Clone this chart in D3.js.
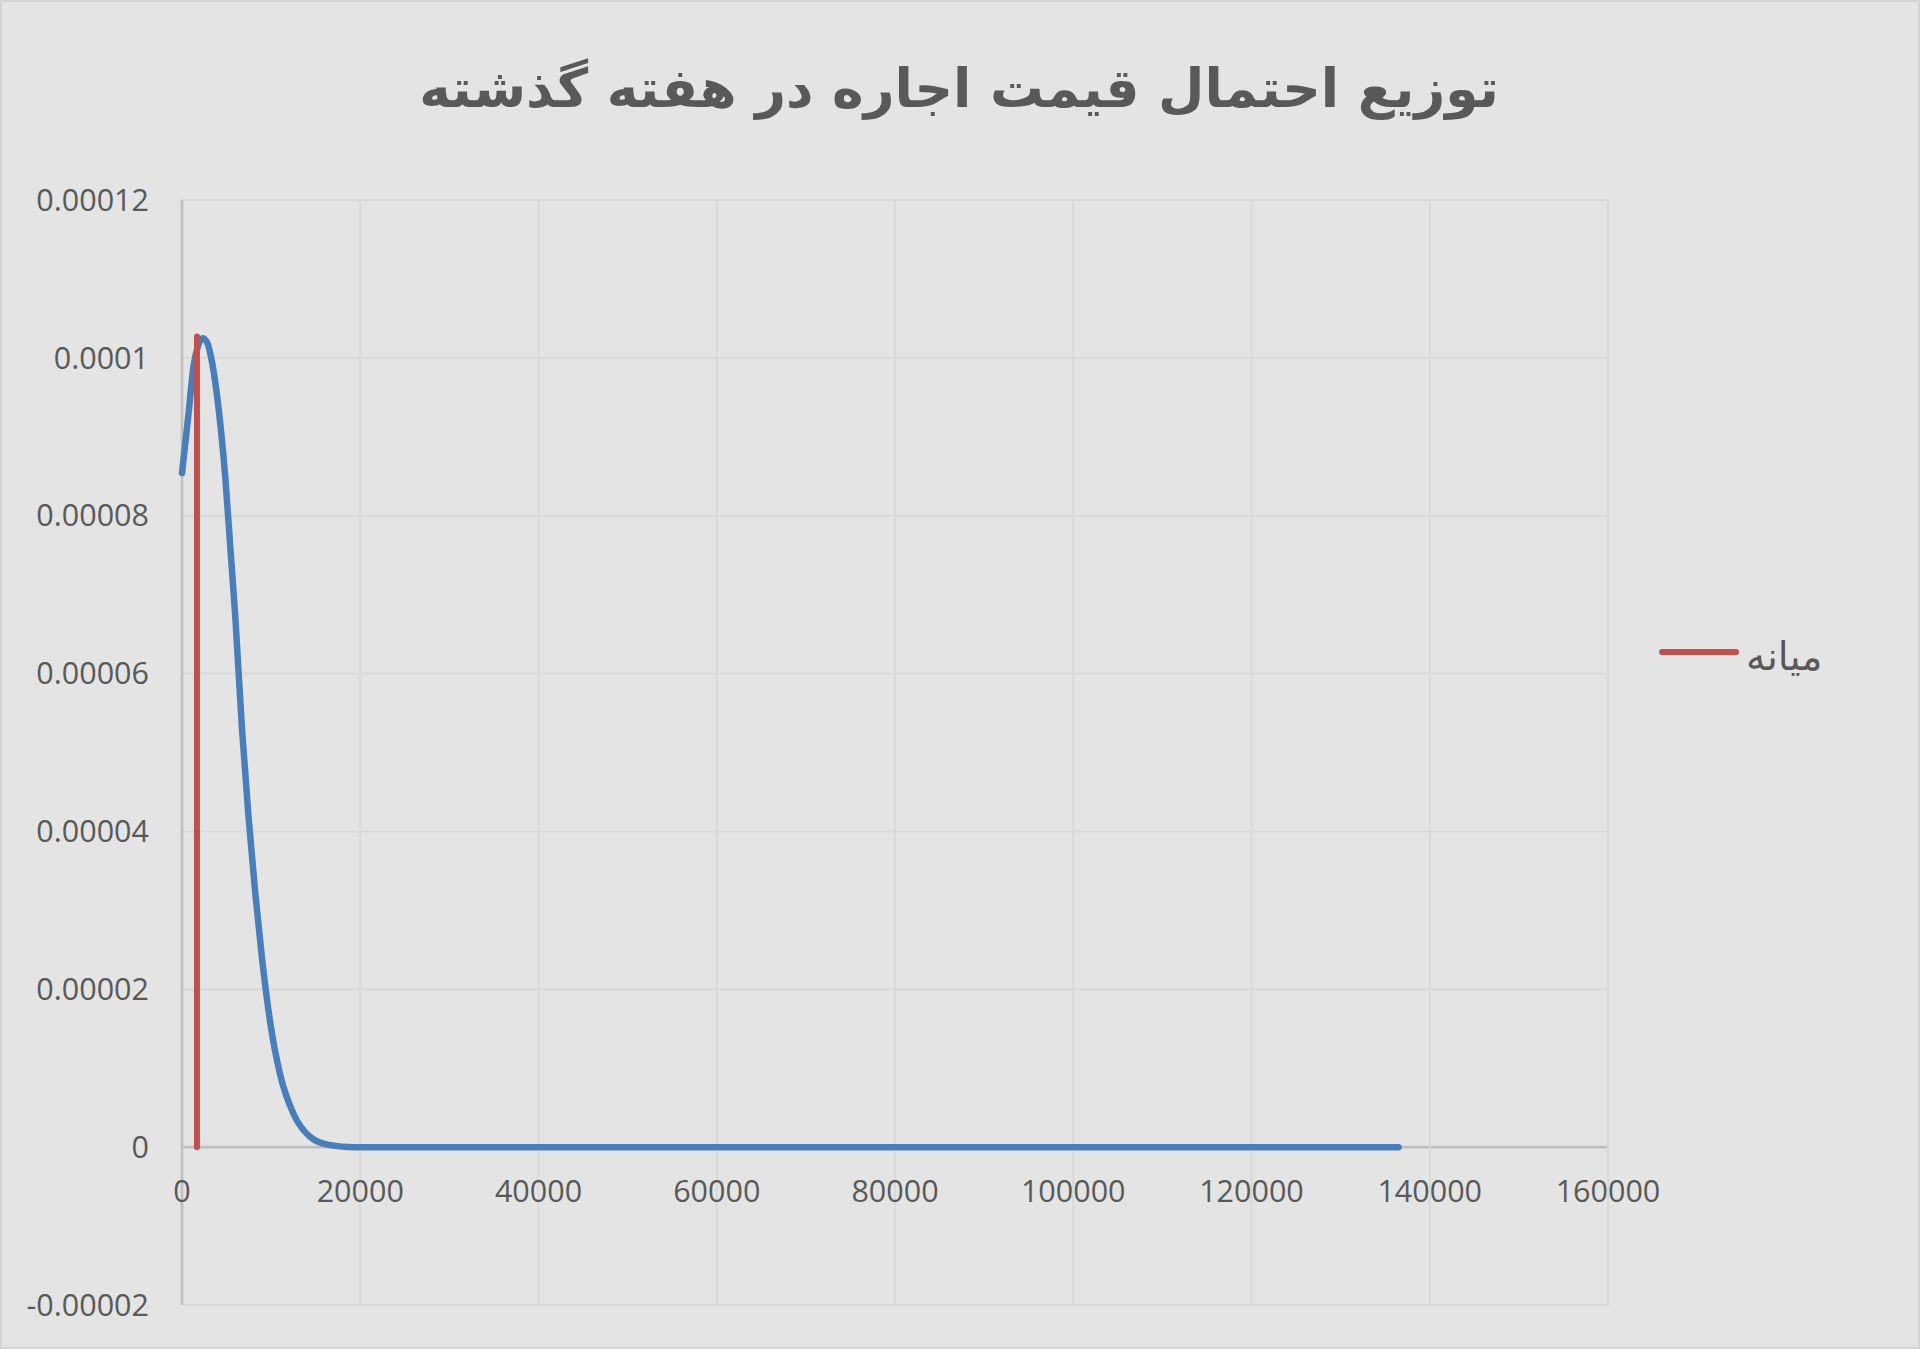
<!DOCTYPE html>
<html>
<head>
    <meta charset="utf-8">
    <title>rent price distribution</title>
    <script src="https://d3js.org/d3.v7.min.js"></script>
    <style>
        html, body { margin: 0; padding: 0; background: #e4e4e4; }
        svg { display: block; }
    </style>
</head>
<body>
<div id="chart"></div>
<script type="text/javascript">
    // values
    const priceX = [0, 740, 1300, 1800, 2300, 2800, 3365, 4105, 4860, 5420, 5980, 6730, 7470, 8220, 8970, 9900, 11030, 12520, 14390, 16630, 19200, 30000, 60000, 100000, 136500];
    const density = [0.0000854, 0.000093, 0.000099, 0.0001015, 0.0001025, 0.000102, 0.0000995, 0.0000936, 0.0000848, 0.000076, 0.0000672, 0.000053, 0.0000418, 0.0000322, 0.000024, 0.0000158, 0.0000091, 0.0000042, 0.0000013, 0.00000025, 0, 0, 0, 0, 0];
    const medianX = [1680, 1680];
    const medianY = [0, 0.0001027];
    const xTicks = [0, 20000, 40000, 60000, 80000, 100000, 120000, 140000, 160000];
    const yTicks = [-0.00002, 0, 0.00002, 0.00004, 0.00006, 0.00008, 0.0001, 0.00012];
    const title = 'توزیع احتمال قیمت اجاره در هفته گذشته';
    const legendLabel = 'میانه';

    const width = 1920;
    const height = 1349;
    const margin = {top: 200, right: 312, bottom: 44, left: 182};

    const textColor = '#595959';
    const gridColor = '#d9d9d9';
    const axisColor = '#bfbfbf';
    const blue = '#4a7ebb';
    const red = '#c0504d';

    const svg = d3.select('#chart').append('svg')
        .attr('width', width).attr('height', height);

    // background + thin border
    svg.append('rect')
        .attr('x', 1).attr('y', 1)
        .attr('width', width - 2).attr('height', height - 2)
        .attr('fill', '#e4e4e4')
        .attr('stroke', '#d4d4d4').attr('stroke-width', 2);

    const x = d3.scaleLinear()
        .domain([0, 160000])
        .range([margin.left, width - margin.right]);
    const y = d3.scaleLinear()
        .domain([-0.00002, 0.00012])
        .range([height - margin.bottom, margin.top]);

    // grid lines
    const grid = svg.append('g');
    grid.selectAll('line.h')
        .data(yTicks)
        .enter().append('line')
        .attr('class', 'h')
        .attr('x1', x(0)).attr('x2', x(160000))
        .attr('y1', d => y(d)).attr('y2', d => y(d))
        .attr('stroke', d => d === 0 ? axisColor : gridColor)
        .attr('stroke-width', d => d === 0 ? 2.6 : 2);
    grid.selectAll('line.v')
        .data(xTicks.filter(d => d > 0))
        .enter().append('line')
        .attr('class', 'v')
        .attr('x1', d => x(d)).attr('x2', d => x(d))
        .attr('y1', y(0.00012)).attr('y2', y(-0.00002))
        .attr('stroke', gridColor).attr('stroke-width', 2);

    // y axis line
    svg.append('line')
        .attr('x1', x(0)).attr('x2', x(0))
        .attr('y1', y(0.00012)).attr('y2', y(-0.00002))
        .attr('stroke', axisColor).attr('stroke-width', 2.6);

    // tick labels
    const yFmt = d => d === 0 ? '0' : String(+d.toFixed(5));
    svg.append('g').selectAll('text')
        .data(yTicks)
        .enter().append('text')
        .attr('x', x(0) - 33)
        .attr('y', d => y(d))
        .attr('dy', '0.35em')
        .attr('text-anchor', 'end')
        .style('font-family', '"Open Sans", sans-serif')
        .style('font-size', '30.5px')
        .attr('fill', textColor)
        .text(yFmt);

    svg.append('g').selectAll('text')
        .data(xTicks)
        .enter().append('text')
        .attr('x', d => x(d))
        .attr('y', y(0) + 44)
        .attr('dy', '0.35em')
        .attr('text-anchor', 'middle')
        .style('font-family', '"Open Sans", sans-serif')
        .style('font-size', '30.5px')
        .attr('fill', textColor)
        .text(d => d);

    // density curve
    const line = d3.line()
        .x(d => x(d[0]))
        .y(d => y(d[1]))
        .curve(d3.curveMonotoneX);

    svg.append('path')
        .datum(priceX.map((p, i) => [p, density[i]]))
        .attr('d', line)
        .attr('fill', 'none')
        .attr('stroke', blue)
        .attr('stroke-width', 6.5)
        .attr('stroke-linecap', 'round')
        .attr('stroke-linejoin', 'round');

    // median line
    svg.append('path')
        .datum(medianX.map((p, i) => [p, medianY[i]]))
        .attr('d', d3.line().x(d => x(d[0])).y(d => y(d[1])))
        .attr('fill', 'none')
        .attr('stroke', red)
        .attr('stroke-width', 6)
        .attr('stroke-linecap', 'round');

    // title
    svg.append('text')
        .attr('x', 959)
        .attr('y', 107)
        .attr('text-anchor', 'middle')
        .style('font-family', '"DejaVu Sans", sans-serif')
        .style('font-weight', 'bold')
        .style('font-size', '53.5px')
        .attr('fill', textColor)
        .text(title);

    // legend
    const legend = svg.append('g');
    legend.append('line')
        .attr('x1', 1662).attr('x2', 1736)
        .attr('y1', 652).attr('y2', 652)
        .attr('stroke', red).attr('stroke-width', 6)
        .attr('stroke-linecap', 'round');
    legend.append('text')
        .attr('x', 1746)
        .attr('y', 670)
        .attr('text-anchor', 'start')
        .style('font-family', '"DejaVu Sans", sans-serif')
        .style('font-size', '39px')
        .attr('fill', textColor)
        .text(legendLabel);
</script>
</body>
</html>
